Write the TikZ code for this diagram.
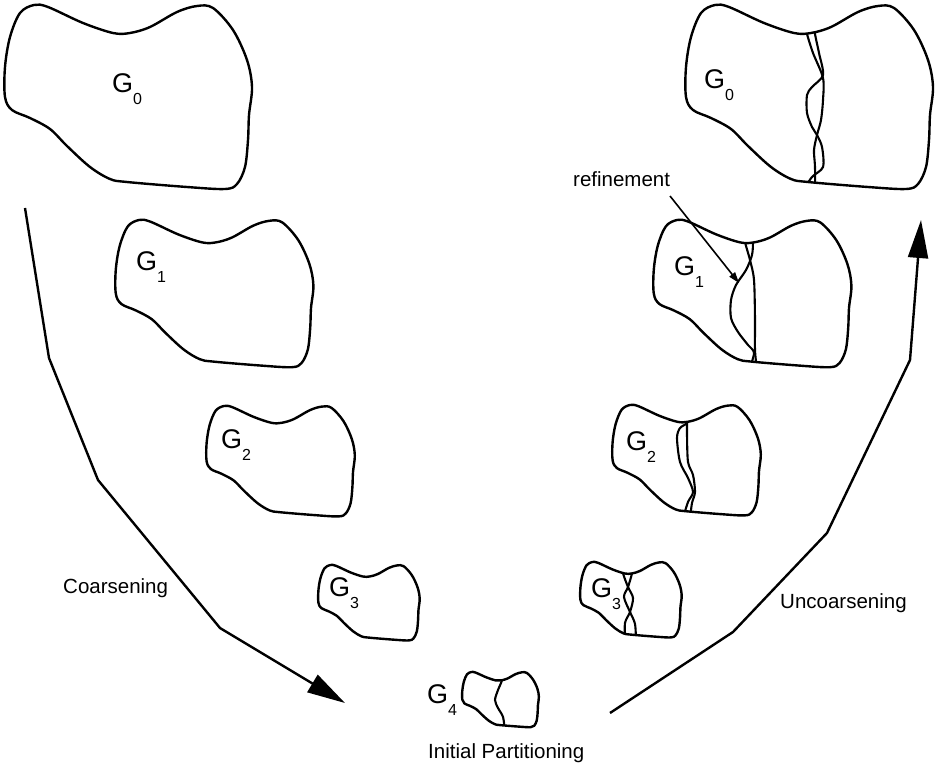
\documentclass[tikz,border=0pt]{standalone}
\usepackage{fontspec}
\setmainfont{Liberation Sans}
\usetikzlibrary{arrows.meta}
\def\myblob{plot[smooth cycle, tension=0.55] coordinates{(5,97) (5,67) (10,37) (20,13) (34,5) (48,7) (83,23) (113,33) (130,33) (150,27) (177,12) (197,6) (213,8) (233,30) (247,60) (252,87) (249,115) (248,140) (245,167) (237,184) (225,189) (187,187) (127,182) (110,179) (90,167) (67,146) (50,129) (30,118) (12,110)}}
\newcommand\Glab[1]{G\raisebox{-12pt}{\fontsize{16}{16}\selectfont #1}}
\begin{document}
\begin{tikzpicture}[x=1pt,y=-1pt, line join=round,
  outline/.style={line width=2.4pt},
  cut/.style={line width=2.1pt},
  glabel/.style={anchor=base west, inner sep=0pt, font=\fontsize{27}{27}\selectfont},
  txt/.style={anchor=base west, inner sep=0pt, font=\fontsize{20.5}{20.5}\selectfont},
  flow/.style={line width=2.4pt, -{Triangle[length=38pt,width=20pt]}},
]
\useasboundingbox (0,0) rectangle (936,767);

% ---------- left column (coarsening) ----------
\begin{scope}[shift={(4,5)},shift={(-4,-5)}] \draw[outline] \myblob; \end{scope}
\begin{scope}[shift={(115,220)},scale=0.8,shift={(-4,-5)}] \draw[outline] \myblob; \end{scope}
\begin{scope}[shift={(206,406)},scale=0.6,shift={(-4,-5)}] \draw[outline] \myblob; \end{scope}
\begin{scope}[shift={(318,565)},scale=0.41,shift={(-4,-5)}] \draw[outline] \myblob; \end{scope}

% ---------- G4 ----------
\begin{scope}[shift={(462,672)},xscale=0.31,yscale=0.30,shift={(-4,-5)}]
  \begin{scope} \clip \myblob;
    \begin{scope}[reset cm]
      \draw[cut] plot[smooth] coordinates{(502,670) (502,680) (498,690) (495,700) (498,708) (503,717) (505,732)};
    \end{scope}
  \end{scope}
  \draw[outline] \myblob;
\end{scope}

% ---------- right column (uncoarsening) ----------
\begin{scope}[shift={(685,5)},shift={(-4,-5)}]
  \begin{scope} \clip \myblob;
    \begin{scope}[reset cm]
      \draw[cut] plot[smooth] coordinates{(806,26) (807,34) (813,53) (823,78) (823,100) (821,120) (817,135) (814,150) (815,167) (815,192)};
      \draw[cut] plot[smooth] coordinates{(815,26) (815,34) (819,53) (823,75) (812,87) (807,95) (807,113) (812,127) (817,135) (822,147) (823,167) (812,177) (802,192)};
    \end{scope}
  \end{scope}
  \draw[outline] \myblob;
\end{scope}
\begin{scope}[shift={(653,220)},scale=0.8,shift={(-4,-5)}]
  \begin{scope} \clip \myblob;
    \begin{scope}[reset cm]
      \draw[cut] plot[smooth] coordinates{(745,234) (745,242) (750,260) (754,280) (755,320) (755,350) (757,370)};
      \draw[cut] plot[smooth] coordinates{(753,234) (753,242) (752,255) (746,270) (736,285) (731,300) (731,318) (738,332) (748,345) (754,353) (749,370)};
    \end{scope}
  \end{scope}
  \draw[outline] \myblob;
\end{scope}
\begin{scope}[shift={(612,405)},scale=0.6,shift={(-4,-5)}]
  \begin{scope} \clip \myblob;
    \begin{scope}[reset cm]
      \draw[cut] plot[smooth] coordinates{(687,415) (687,423) (680,428) (677,438) (680,462) (688,478) (693,492) (688,502) (683,518)};
      \draw[cut] plot[smooth] coordinates{(687,415) (687,423) (687,435) (688,462) (693,475) (695,492) (692,503) (690,518)};
    \end{scope}
  \end{scope}
  \draw[outline] \myblob;
\end{scope}
\begin{scope}[shift={(580,562)},scale=0.41,shift={(-4,-5)}]
  \begin{scope} \clip \myblob;
    \begin{scope}[reset cm]
      \draw[cut] plot[smooth] coordinates{(623,563) (623,573) (628,587) (633,598) (630,612) (625,623) (625,642)};
      \draw[cut] plot[smooth] coordinates{(632,563) (632,573) (628,587) (624,597) (630,612) (635,624) (636,642)};
    \end{scope}
  \end{scope}
  \draw[outline] \myblob;
\end{scope}

% ---------- labels ----------
\node[glabel] (g0l) at (112,93) {\Glab{0}};
\node[glabel] (g1l) at (136,270) {\Glab{1}};
\node[glabel] (g2l) at (221,448) {\Glab{2}};
\node[glabel] (g3l) at (329,596) {\Glab{3}};
\node[glabel] (g4) at (427,703) {\Glab{4}};
\node[glabel] (g0r) at (704,89) {\Glab{0}};
\node[glabel] (g1r) at (674,275) {\Glab{1}};
\node[glabel] (g2r) at (626,450) {\Glab{2}};
\node[glabel] (g3r) at (591,597) {\Glab{3}};

\node[txt] (coarse) at (63,593) {Coarsening};
\node[txt] (uncoarse) at (780,608) {Uncoarsening};
\node[txt] (initp) at (428,758) {Initial Partitioning};
\node[txt] (refine) at (573,187) {refinement};

% ---------- arrows ----------
\coordinate (c0) at (25,208);
\coordinate (c1) at (49,358);
\coordinate (c2) at (98,480);
\coordinate (c3) at (220,628);
\coordinate (c4) at (345,703);
\draw[flow] (c0) -- (c1) -- (c2) -- (c3) -- (c4);

\coordinate (u0) at (610,713);
\coordinate (u1) at (733,632);
\coordinate (u2) at (827,533);
\coordinate (u3) at (910,360);
\coordinate (u4) at (921,220);
\draw[flow] (u0) -- (u1) -- (u2) -- (u3) -- (u4);

\coordinate (r0) at (670,196);
\coordinate (r1) at (739,283);
\draw[line width=1.6pt, -{Triangle[length=11pt,width=7pt]}] (r0) -- (r1);
\end{tikzpicture}
\end{document}
